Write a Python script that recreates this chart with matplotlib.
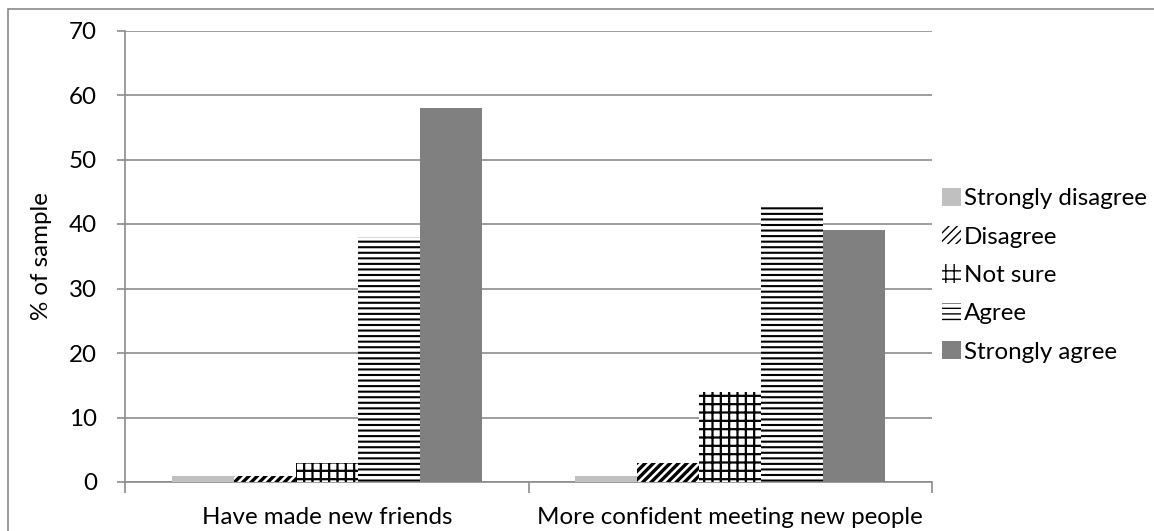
import numpy as np
import matplotlib
matplotlib.use("Agg")
from matplotlib import pyplot as plt
from matplotlib.patches import Rectangle

plt.rcParams['font.family'] = ['Lato', 'DejaVu Sans']

categories = ['Have made new friends', 'More confident meeting new people']
responses = ['Strongly disagree', 'Disagree', 'Not sure', 'Agree', 'Strongly agree']
strongly_disagree = [1, 1]
disagree = [1, 3]
not_sure = [3, 14]
agree = [38, 43]
strongly_agree = [58, 39]

series = [strongly_disagree, disagree, not_sure, agree, strongly_agree]
# fill colour, hatch, hatch line width
styles = [
    ('#c0c0c0', '', 1.0),
    ('white', '////', 2.4),
    ('white', '++', 1.6),
    ('white', '---', 1.5),
    ('#808080', '', 1.0),
]
fs = 17.4

fig = plt.figure(figsize=(11.54, 5.31), dpi=100)
ax = fig.add_axes([125 / 1154, 49 / 531, 807 / 1154, 451.5 / 531])

# chart frame
fig.patches.append(Rectangle((8 / 1154, -0.1), 1.2, (531 - 9) / 531 + 0.1,
                             transform=fig.transFigure, fill=False,
                             edgecolor='#8a8a8a', linewidth=1.2))

x = np.arange(len(categories))
w = 1 / 6.5
grey = '#8c8c8c'

for i, (vals, name, (fc, hatch, hlw)) in enumerate(zip(series, responses, styles)):
    bars = ax.bar(x + (i - 2) * w, vals, w, color=fc, edgecolor='black',
                  linewidth=0, hatch=hatch or None, label=name, zorder=3)
    for b in bars:
        if hasattr(b, 'set_hatch_linewidth'):
            b.set_hatch_linewidth(hlw)

ax.set_xlim(-0.5, 1.5)
ax.set_ylim(0, 70)
ax.set_yticks(range(0, 71, 10))
ax.yaxis.grid(True, color=grey, linewidth=1.2, zorder=0)
ax.set_axisbelow(True)

ax.set_xticks(x)
ax.set_xticklabels(categories)
ax.set_xticks([-0.5, 0.5, 1.5], minor=True)
ax.tick_params(axis='x', which='major', length=0, pad=18, labelsize=fs)
ax.tick_params(axis='x', which='minor', length=8, width=1.2, color=grey)
ax.tick_params(axis='y', length=6, width=1.2, color=grey, pad=14, labelsize=fs)

for side in ('top', 'right'):
    ax.spines[side].set_visible(False)
for side in ('left', 'bottom'):
    ax.spines[side].set_color(grey)
    ax.spines[side].set_linewidth(1.2)

ax.set_ylabel('% of sample', fontsize=fs, labelpad=12)

leg = ax.legend(loc='center left', bbox_to_anchor=(1.0, 0.458), frameon=False,
                fontsize=fs, handlelength=0.78, handleheight=0.78,
                handletextpad=0.15, labelspacing=0.7, borderaxespad=0.0)

fig.savefig('out.png', dpi=100)
